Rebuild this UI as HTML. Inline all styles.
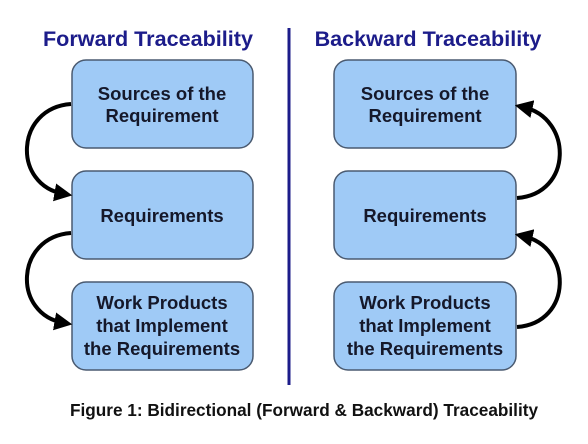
<!DOCTYPE html>
<html><head><style>
body{margin:0;background:#fff;}
svg{display:block;}
</style></head><body>
<svg width="588" height="444" viewBox="0 0 588 444" xmlns="http://www.w3.org/2000/svg">
<defs>
<marker id="ah" markerWidth="4.5" markerHeight="4.5" refX="2.4" refY="2.25" orient="auto" markerUnits="strokeWidth">
<path d="M0,0 L4.5,2.25 L0,4.5 z" fill="#000"/>
</marker>
</defs>
<g font-family="Liberation Sans, sans-serif" font-weight="bold" text-anchor="middle">
<text x="148" y="46" font-size="21.6" fill="#1c1c8a">Forward Traceability</text>
<text x="428" y="46" font-size="21.6" fill="#1c1c8a">Backward Traceability</text>
<line x1="289" y1="28" x2="289" y2="385" stroke="#1c1c8a" stroke-width="3"/>
<g fill="#9fcaf6" stroke="#4a5a70" stroke-width="1.5">
<rect x="72" y="60" width="181" height="88" rx="14"/>
<rect x="72" y="171" width="181" height="88" rx="14"/>
<rect x="72" y="282" width="181" height="88" rx="14"/>
<rect x="334" y="60" width="182" height="88" rx="14"/>
<rect x="334" y="171" width="182" height="88" rx="14"/>
<rect x="334" y="282" width="182" height="88" rx="14"/>
</g>
<g font-size="18.5" fill="#15182a">
<text x="162" y="100">Sources of the</text>
<text x="162" y="122">Requirement</text>
<text x="162" y="222">Requirements</text>
<text x="162" y="309">Work Products</text>
<text x="162" y="332">that Implement</text>
<text x="162" y="355">the Requirements</text>
<text x="425" y="100">Sources of the</text>
<text x="425" y="122">Requirement</text>
<text x="425" y="222">Requirements</text>
<text x="425" y="309">Work Products</text>
<text x="425" y="332">that Implement</text>
<text x="425" y="355">the Requirements</text>
</g>
<g fill="none" stroke="#000" stroke-width="4">
<path d="M71,104 C15,108 12,185 64,194" marker-end="url(#ah)"/>
<path d="M71,233 C15,237 12,314 64,323" marker-end="url(#ah)"/>
<path d="M517,198 C573,194 573,118 523,107" marker-end="url(#ah)"/>
<path d="M517,327 C573,323 573,247 523,236" marker-end="url(#ah)"/>
</g>
<text x="304" y="416" font-size="17.2" fill="#111">Figure 1: Bidirectional (Forward &amp; Backward) Traceability</text>
</g>
</svg>
</body></html>
